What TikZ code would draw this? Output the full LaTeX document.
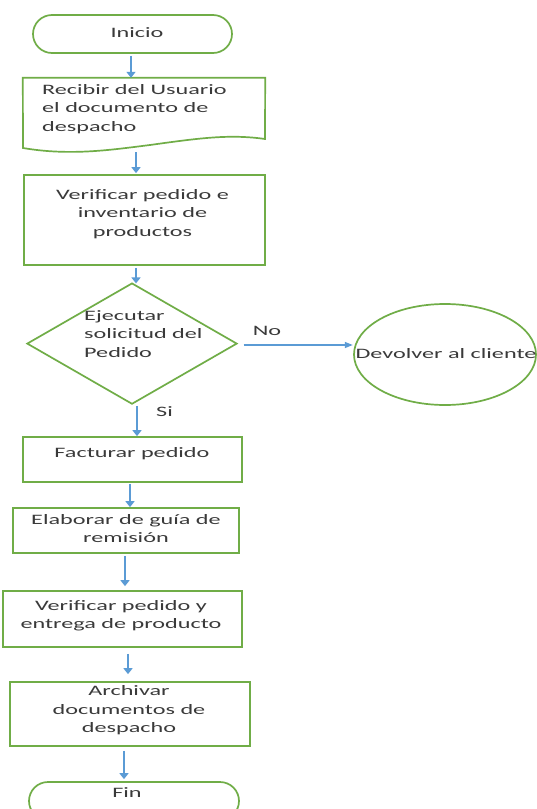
\documentclass[tikz,border=0pt]{standalone}
\usepackage{fontspec}
\setmainfont{Carlito}[FakeStretch=1.68]
\usetikzlibrary{arrows.meta}
\definecolor{flowgreen}{HTML}{70AD47}
\definecolor{flowblue}{HTML}{5B9BD5}
\definecolor{textgray}{HTML}{3A3A3A}
\begin{document}
\begin{tikzpicture}[x=1pt,y=-1pt,
 shapeline/.style={draw=flowgreen, line width=1.7pt},
 box/.style={shapeline, rectangle, inner sep=0pt},
 frame/.style={rectangle, inner sep=0pt, draw=none},
 txt/.style={text=textgray, inner sep=0pt, align=center, font=\fontsize{14.4}{18.5}\selectfont},
 arr/.style={draw=flowblue, line width=2.6pt, -{Triangle[width=9pt,length=6pt]}},
 harr/.style={draw=flowblue, line width=1.3pt, -{Triangle[width=6pt,length=8pt]}},
]
\useasboundingbox (0,0) rectangle (537,809);
\clip (0,0) rectangle (537,809);
\fill[white] (0,0) rectangle (537,809);

% Inicio
\node[box, rounded corners=19pt, minimum width=199pt, minimum height=38pt] (inicio) at (132.5,34) {};
\node[txt] (tinicio) at (137,33) {Inicio};

% Document shape
\node[frame, minimum width=242pt, minimum height=70pt] (doc) at (144,113) {};
\draw[shapeline] (doc.north west) -- (doc.north east) -- (265,139)
  .. controls (230,134) and (200,138) .. (150,145)
  .. controls (110,150) and (70,156) .. (23,148) -- cycle;
\node[txt, anchor=west, align=left] (tdoc) at (42,109) {Recibir del Usuario\\el documento de\\despacho};

% Verificar
\node[box, minimum width=241pt, minimum height=90pt] (verif) at (144.5,220) {};
\node[txt] (tverif) at (142.5,214) {Verificar pedido e\\inventario de\\productos};

% Decision
\node[frame, minimum width=209pt, minimum height=120pt] (dec) at (132,343.6) {};
\draw[shapeline] (dec.north) -- (dec.east) -- (dec.south) -- (dec.west) -- cycle;
\node[txt, anchor=west, align=left] (tdec) at (84,334) {Ejecutar\\solicitud del\\Pedido};

% Devolver
\node[frame, minimum width=182pt, minimum height=101pt] (dev) at (445,354.5) {};
\draw[shapeline] (dev.center) ellipse [x radius=91, y radius=50.5];
\node[txt] (tdev) at (446,354) {Devolver al cliente};

% Labels
\node[txt] (tno) at (267,331) {No};
\node[txt] (tsi) at (164.5,412) {Si};

% Process boxes
\node[box, minimum width=219pt, minimum height=45pt] (fact) at (132.5,459.5) {};
\node[txt] (tfact) at (132,454) {Facturar pedido};
\node[box, minimum width=226pt, minimum height=45pt] (elab) at (126,530.5) {};
\node[txt] (telab) at (126,528.5) {Elaborar de guía de\\remisión};
\node[box, minimum width=239pt, minimum height=56pt] (verif2) at (122.5,619) {};
\node[txt] (tverif2) at (121,615.5) {Verificar pedido y\\entrega de producto};
\node[box, minimum width=240pt, minimum height=64pt] (arch) at (130,714) {};
\node[txt] (tarch) at (129,710.5) {Archivar\\documentos de\\despacho};

% Fin
\node[box, rounded corners=19pt, minimum width=210pt, minimum height=38pt] (fin) at (134,801) {};
\node[txt] (tfin) at (127,793) {Fin};

% Connectors
\draw[arr] ([xshift=-1.5pt,yshift=-2pt]inicio.south) -- ([xshift=-1.5pt]inicio.south |- doc.north);
\draw[arr, shorten >=1pt] ([xshift=-8pt,yshift=-4pt]doc.south) -- ([xshift=-8pt]doc.south |- verif.north);
\draw[arr] ([xshift=-8.5pt,yshift=-2pt]verif.south) -- ([xshift=-8.5pt]verif.south |- dec.north);
\draw[harr] ([xshift=7pt,yshift=-1.4pt]dec.east) -- ([xshift=-1pt,yshift=-1.4pt]dec.east -| dev.west);
\draw[arr] ([xshift=5pt,yshift=-2pt]dec.south) -- ([xshift=5pt]dec.south |- fact.north);
\draw[arr] ([xshift=-2.5pt,yshift=-1pt]fact.south) -- ([xshift=-2.5pt]fact.south |- elab.north);
\draw[arr, shorten >=4pt] ([xshift=-1pt,yshift=-2pt]elab.south) -- ([xshift=-1pt]elab.south |- verif2.north);
\draw[arr, shorten >=7pt] ([xshift=5.5pt,yshift=-6pt]verif2.south) -- ([xshift=5.5pt]verif2.south |- arch.north);
\draw[arr, shorten >=2pt] ([xshift=-6pt,yshift=-4pt]arch.south) -- ([xshift=-6pt]arch.south |- fin.north);
\end{tikzpicture}
\end{document}
